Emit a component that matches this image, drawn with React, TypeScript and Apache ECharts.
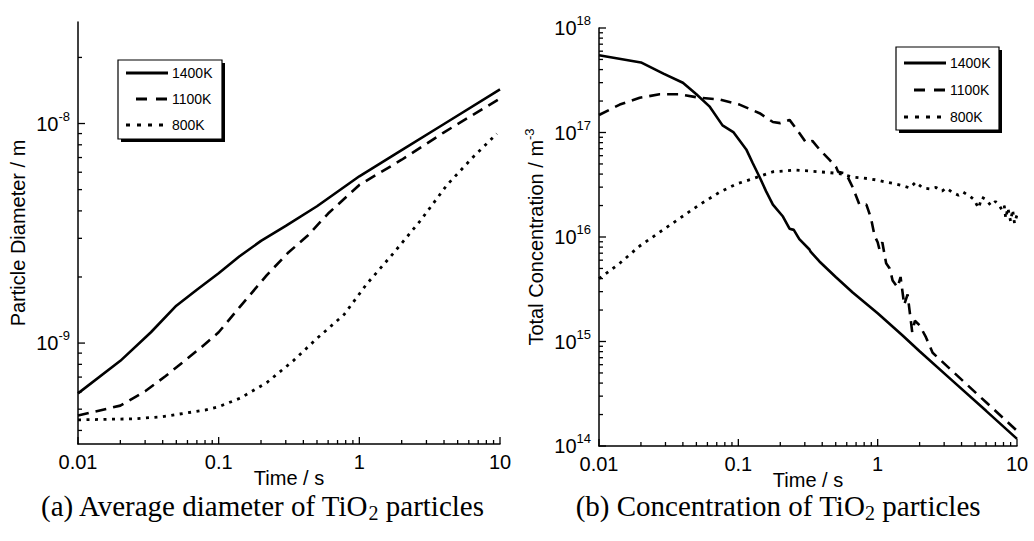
import React, { useEffect, useRef } from "react";
import * as echarts from "echarts";

// ---------- data: (a) average diameter ----------
const diamT1400 = [0.01, 0.02, 0.033, 0.05, 0.07, 0.1, 0.14, 0.2, 0.3, 0.5, 1, 2, 4, 10];
const diam1400 = [5.9e-10, 8.3e-10, 1.12e-9, 1.48e-9, 1.75e-9, 2.08e-9, 2.48e-9, 2.92e-9, 3.42e-9, 4.2e-9, 5.75e-9, 7.57e-9, 9.95e-9, 1.43e-8];

const diamT1100 = [0.01, 0.02, 0.03, 0.042, 0.06, 0.075, 0.1, 0.14, 0.22, 0.31, 0.43, 0.6, 1, 2, 4, 10];
const diam1100 = [4.68e-10, 5.19e-10, 6.03e-10, 7.08e-10, 8.51e-10, 9.55e-10, 1.12e-9, 1.45e-9, 2.04e-9, 2.57e-9, 3.09e-9, 3.89e-9, 5.25e-9, 6.84e-9, 9.12e-9, 1.3e-8];

const diamT800 = [0.01, 0.025, 0.04, 0.057, 0.08, 0.1, 0.143, 0.22, 0.34, 0.5, 0.78, 1.13, 1.75, 2.7, 4.2, 6.5, 9.5];
const diam800 = [4.47e-10, 4.52e-10, 4.62e-10, 4.79e-10, 4.95e-10, 5.13e-10, 5.62e-10, 6.61e-10, 8.32e-10, 1.05e-9, 1.35e-9, 1.86e-9, 2.57e-9, 3.59e-9, 5.25e-9, 7.08e-9, 8.99e-9];

// ---------- data: (b) total concentration ----------
const concT1400 = [0.01, 0.02, 0.029, 0.04, 0.05, 0.062, 0.077, 0.092, 0.114, 0.127, 0.142, 0.158, 0.177, 0.209, 0.233, 0.25, 0.274, 0.324, 0.33, 0.382, 0.5, 0.662, 1, 1.51, 1.99, 3.45, 6, 10];
const conc1400 = [5.48e17, 4.68e17, 3.66e17, 2.99e17, 2.32e17, 1.78e17, 1.17e17, 1.01e17, 6.89e16, 5.08e16, 3.75e16, 2.75e16, 2.04e16, 1.57e16, 1.2e16, 1.17e16, 9.55e15, 7.59e15, 7.24e15, 5.83e15, 4.14e15, 2.94e15, 1.86e15, 1.14e15, 8.1e14, 4.2e14, 2.17e14, 1.17e14];

const concT1100 = [0.01, 0.0141, 0.0196, 0.0272, 0.038, 0.0527, 0.073, 0.102, 0.142, 0.177, 0.2, 0.209, 0.233, 0.26, 0.306, 0.34, 0.382, 0.45, 0.502, 0.52, 0.593, 0.662, 0.74, 0.83, 0.896, 0.95, 1.0, 1.03, 1.08, 1.15, 1.22, 1.28, 1.39, 1.46, 1.55, 1.64, 1.77, 1.85, 2.0, 2.22, 2.48, 3.45, 6, 10];
const conc1100 = [1.47e17, 1.85e17, 2.15e17, 2.32e17, 2.32e17, 2.15e17, 2.07e17, 1.85e17, 1.53e17, 1.26e17, 1.23e17, 1.26e17, 1.32e17, 1.09e17, 8.0e16, 8.3e16, 6.9e16, 5.5e16, 4.7e16, 4.2e16, 4.05e16, 2.99e16, 2.04e16, 2.04e16, 1.51e16, 1.03e16, 8.9e15, 7.6e15, 8.9e15, 5.6e15, 5.0e15, 3.84e15, 3.3e15, 4.14e15, 2.25e15, 2.82e15, 1.23e15, 1.58e15, 1.43e15, 1.1e15, 7.8e14, 5.18e14, 2.62e14, 1.4e14];

const concT800 = [0.01, 0.0141, 0.0196, 0.0272, 0.038, 0.0527, 0.073, 0.097, 0.127, 0.177, 0.26, 0.382, 0.53, 0.662, 0.87, 1.0, 1.15, 1.3, 1.51, 1.7, 1.88, 2.1, 2.4, 2.62, 2.9, 3.1, 3.45, 3.8, 4.1, 4.56, 4.9, 5.3, 5.6, 5.98, 6.5, 7.0, 7.4, 7.8, 8.1, 8.3, 8.6, 9.0, 9.3, 9.6, 10];
const conc800 = [3.99e15, 5.61e15, 8.2e15, 1.11e16, 1.51e16, 2.04e16, 2.67e16, 3.22e16, 3.61e16, 4.21e16, 4.37e16, 4.21e16, 4.05e16, 3.75e16, 3.61e16, 3.5e16, 3.35e16, 3.25e16, 3.1e16, 2.95e16, 3.35e16, 2.95e16, 2.88e16, 2.98e16, 2.75e16, 2.95e16, 2.67e16, 2.51e16, 2.69e16, 2.47e16, 2.29e16, 1.89e16, 2.4e16, 2.29e16, 2.0e16, 2.19e16, 2.04e16, 1.82e16, 2.0e16, 1.51e16, 1.9e16, 1.41e16, 1.82e16, 1.35e16, 1.63e16];

const seriesNames = ["1400K", "1100K", "800K"];
const xRange = [0.01, 10];
const diamRange = [3.47e-10, 2.9e-8];
const concRange = [1e14, 1e18];

const GRIDS = [
  { left: 78, top: 22, width: 422, height: 422 },
  { left: 599, top: 28, width: 418, height: 418 },
];

const SANS = "'Liberation Sans', Arial, Helvetica, sans-serif";
const SERIF = "'Liberation Serif', 'Times New Roman', serif";

const zip = (t: number[], v: number[]) => t.map((x, i) => [x, v[i]]);

const lineStyles: any[] = [
  { color: "#000", width: 2.6, type: "solid" },
  { color: "#000", width: 2.6, type: [11, 7], cap: "butt" },
  { color: "#000", width: 2.8, type: [3, 5.5], cap: "butt" },
];

function fmtX(v: number) {
  const l = Math.log10(v);
  const e = Math.round(l);
  if (Math.abs(l - e) > 1e-6) return "";
  return e < 0 ? Math.pow(10, e).toFixed(-e) : String(Math.round(Math.pow(10, e)));
}
function fmtY(v: number) {
  const l = Math.log10(v);
  const e = Math.round(l);
  if (Math.abs(l - e) > 1e-6) return "";
  return `{b|10}{s|${e}}`;
}

// positions of log ticks (1..9 per decade) within a range; k===1 is a major tick
function decadeTicks(r: number[]) {
  const out: { v: number; major: boolean }[] = [];
  const e0 = Math.floor(Math.log10(r[0]));
  const e1 = Math.ceil(Math.log10(r[1]));
  for (let e = e0; e <= e1; e++) {
    for (let k = 1; k <= 9; k++) {
      const v = k * Math.pow(10, e);
      if (v >= r[0] * 0.9999 && v <= r[1] * 1.0001) out.push({ v, major: k === 1 });
    }
  }
  return out;
}

const labelRich = {
  b: { fontSize: 20, lineHeight: 28, fontFamily: SANS, color: "#000" },
  s: { fontSize: 13, verticalAlign: "top", fontFamily: SANS, color: "#000" },
};

function xAxisCfg(gridIndex: number) {
  return {
    type: "log",
    logBase: 10,
    gridIndex,
    min: xRange[0],
    max: xRange[1],
    axisLine: { show: true, onZero: false, lineStyle: { color: "#000", width: 1.5 } },
    axisTick: { show: false },
    splitLine: { show: false },
    axisLabel: { formatter: fmtX, fontSize: 20, color: "#000", fontFamily: SANS, margin: 8 },
    name: "Time / s",
    nameLocation: "middle",
    nameGap: 24,
    nameMoveOverlap: false,
    nameTextStyle: { fontSize: 20, color: "#000", fontFamily: SANS },
  };
}

function yAxisCfg(gridIndex: number, range: number[], name: string, nameRich: any) {
  return {
    type: "log",
    logBase: 10,
    gridIndex,
    min: range[0],
    max: range[1],
    axisLine: { show: true, onZero: false, lineStyle: { color: "#000", width: 1.5 } },
    axisTick: { show: false },
    splitLine: { show: false },
    axisLabel: { formatter: fmtY, color: "#000", fontFamily: SANS, margin: 8, rich: labelRich },
    name,
    nameLocation: "middle",
    nameGap: 50,
    nameMoveOverlap: false,
    nameTextStyle: { fontSize: 20, color: "#000", fontFamily: SANS, rich: nameRich },
  };
}

function legendGraphic(x: number, y: number, w: number, h: number, rowYs: number[], lx0: number, lx1: number) {
  const els: any[] = [
    { type: "rect", shape: { x: x + 3, y: y + 3, width: w, height: h }, style: { fill: "#000" } },
    { type: "rect", shape: { x, y, width: w, height: h }, style: { fill: "#fff", stroke: "#000", lineWidth: 1.2 } },
  ];
  const dashes = [null, [11, 9], [4, 7]];
  const starts = [lx0, lx0 + 10, lx0];
  rowYs.forEach((ry, i) => {
    els.push({
      type: "line",
      shape: { x1: starts[i], y1: ry, x2: lx1, y2: ry },
      style: { stroke: "#000", lineWidth: i === 2 ? 3 : 2.8, lineDash: dashes[i] || undefined, lineCap: "butt" },
    });
    els.push({
      type: "text",
      x: lx1 + 4,
      y: ry,
      style: { text: seriesNames[i], font: `14px ${SANS}`, fill: "#000", verticalAlign: "middle", align: "left" },
    });
  });
  return els;
}

function caption(cx: number, cy: number, pre: string, post: string) {
  return {
    type: "text",
    x: cx,
    y: cy,
    style: {
      text: `{n|${pre}}{sub|2}{n|${post}}`,
      align: "center",
      verticalAlign: "middle",
      rich: {
        n: { fontSize: 29, fontFamily: SERIF, lineHeight: 33, fill: "#000", color: "#000" },
        sub: { fontSize: 20, fontFamily: SERIF, verticalAlign: "bottom", fill: "#000", color: "#000" },
      },
    },
  };
}

// pixel position through the chart's own axes, with a log fallback on the grid box
function toPixel(chart: any, gi: number, xr: number[], yr: number[], x: number, y: number) {
  let p: any = null;
  try {
    p = chart.convertToPixel({ xAxisIndex: gi, yAxisIndex: gi }, [x, y]);
  } catch (e) {
    p = null;
  }
  if (p && isFinite(p[0]) && isFinite(p[1])) return p;
  const g = GRIDS[gi];
  const fx = (Math.log10(x) - Math.log10(xr[0])) / (Math.log10(xr[1]) - Math.log10(xr[0]));
  const fy = (Math.log10(y) - Math.log10(yr[0])) / (Math.log10(yr[1]) - Math.log10(yr[0]));
  return [g.left + fx * g.width, g.top + g.height - fy * g.height];
}

// inward major (7px) and logarithmic minor (4px) tick marks
function tickGraphics(chart: any, gi: number, xr: number[], yr: number[]) {
  const els: any[] = [];
  decadeTicks(xr).forEach((t) => {
    const p = toPixel(chart, gi, xr, yr, t.v, yr[0]);
    const len = t.major ? 7 : 4;
    els.push({ type: "rect", z: 100, shape: { x: p[0] - 0.65, y: p[1] - len, width: 1.3, height: len }, style: { fill: "#000" } });
  });
  decadeTicks(yr).forEach((t) => {
    const p = toPixel(chart, gi, xr, yr, xr[0], t.v);
    const len = t.major ? 7 : 4;
    els.push({ type: "rect", z: 100, shape: { x: p[0], y: p[1] - 0.65, width: len, height: 1.3 }, style: { fill: "#000" } });
  });
  return els;
}

export default function App() {
  const ref = useRef<HTMLDivElement>(null);
  useEffect(() => {
    document.body.style.margin = "0";
    if (!ref.current) return;
    const chart = echarts.init(ref.current, null, { renderer: "svg" });
    const baseGraphic = [
      ...legendGraphic(118, 60, 104, 79, [73, 99, 125], 126, 168),
      ...legendGraphic(896, 47, 103, 83, [63, 90, 117], 904, 946),
      caption(262, 506, "(a) Average diameter of TiO", " particles"),
      caption(778, 506, "(b) Concentration of TiO", " particles"),
    ];
    const option: any = {
      animation: false,
      backgroundColor: "#fff",
      grid: GRIDS,
      xAxis: [xAxisCfg(0), xAxisCfg(1)],
      yAxis: [
        yAxisCfg(0, diamRange, "Particle Diameter / m", {}),
        yAxisCfg(1, concRange, "{a|Total Concentration / m}{s|-3}", {
          a: { fontSize: 20, lineHeight: 26, fontFamily: SANS, color: "#000" },
          s: { fontSize: 13, verticalAlign: "top", fontFamily: SANS, color: "#000" },
        }),
      ],
      series: [
        { type: "line", name: seriesNames[0], xAxisIndex: 0, yAxisIndex: 0, data: zip(diamT1400, diam1400), symbol: "none", lineStyle: lineStyles[0] },
        { type: "line", name: seriesNames[1], xAxisIndex: 0, yAxisIndex: 0, data: zip(diamT1100, diam1100), symbol: "none", lineStyle: lineStyles[1] },
        { type: "line", name: seriesNames[2], xAxisIndex: 0, yAxisIndex: 0, data: zip(diamT800, diam800), symbol: "none", lineStyle: lineStyles[2] },
        { type: "line", name: seriesNames[0], xAxisIndex: 1, yAxisIndex: 1, data: zip(concT1400, conc1400), symbol: "none", lineStyle: lineStyles[0] },
        { type: "line", name: seriesNames[1], xAxisIndex: 1, yAxisIndex: 1, data: zip(concT1100, conc1100), symbol: "none", lineStyle: lineStyles[1] },
        { type: "line", name: seriesNames[2], xAxisIndex: 1, yAxisIndex: 1, data: zip(concT800, conc800), symbol: "none", lineStyle: lineStyles[2] },
      ],
      graphic: baseGraphic,
    };
    chart.setOption(option);
    const ticks = [...tickGraphics(chart, 0, xRange, diamRange), ...tickGraphics(chart, 1, xRange, concRange)];
    chart.setOption({ graphic: [...baseGraphic, ...ticks] });
    return () => chart.dispose();
  }, []);
  return <div ref={ref} style={{ width: 1034, height: 541 }} />;
}
